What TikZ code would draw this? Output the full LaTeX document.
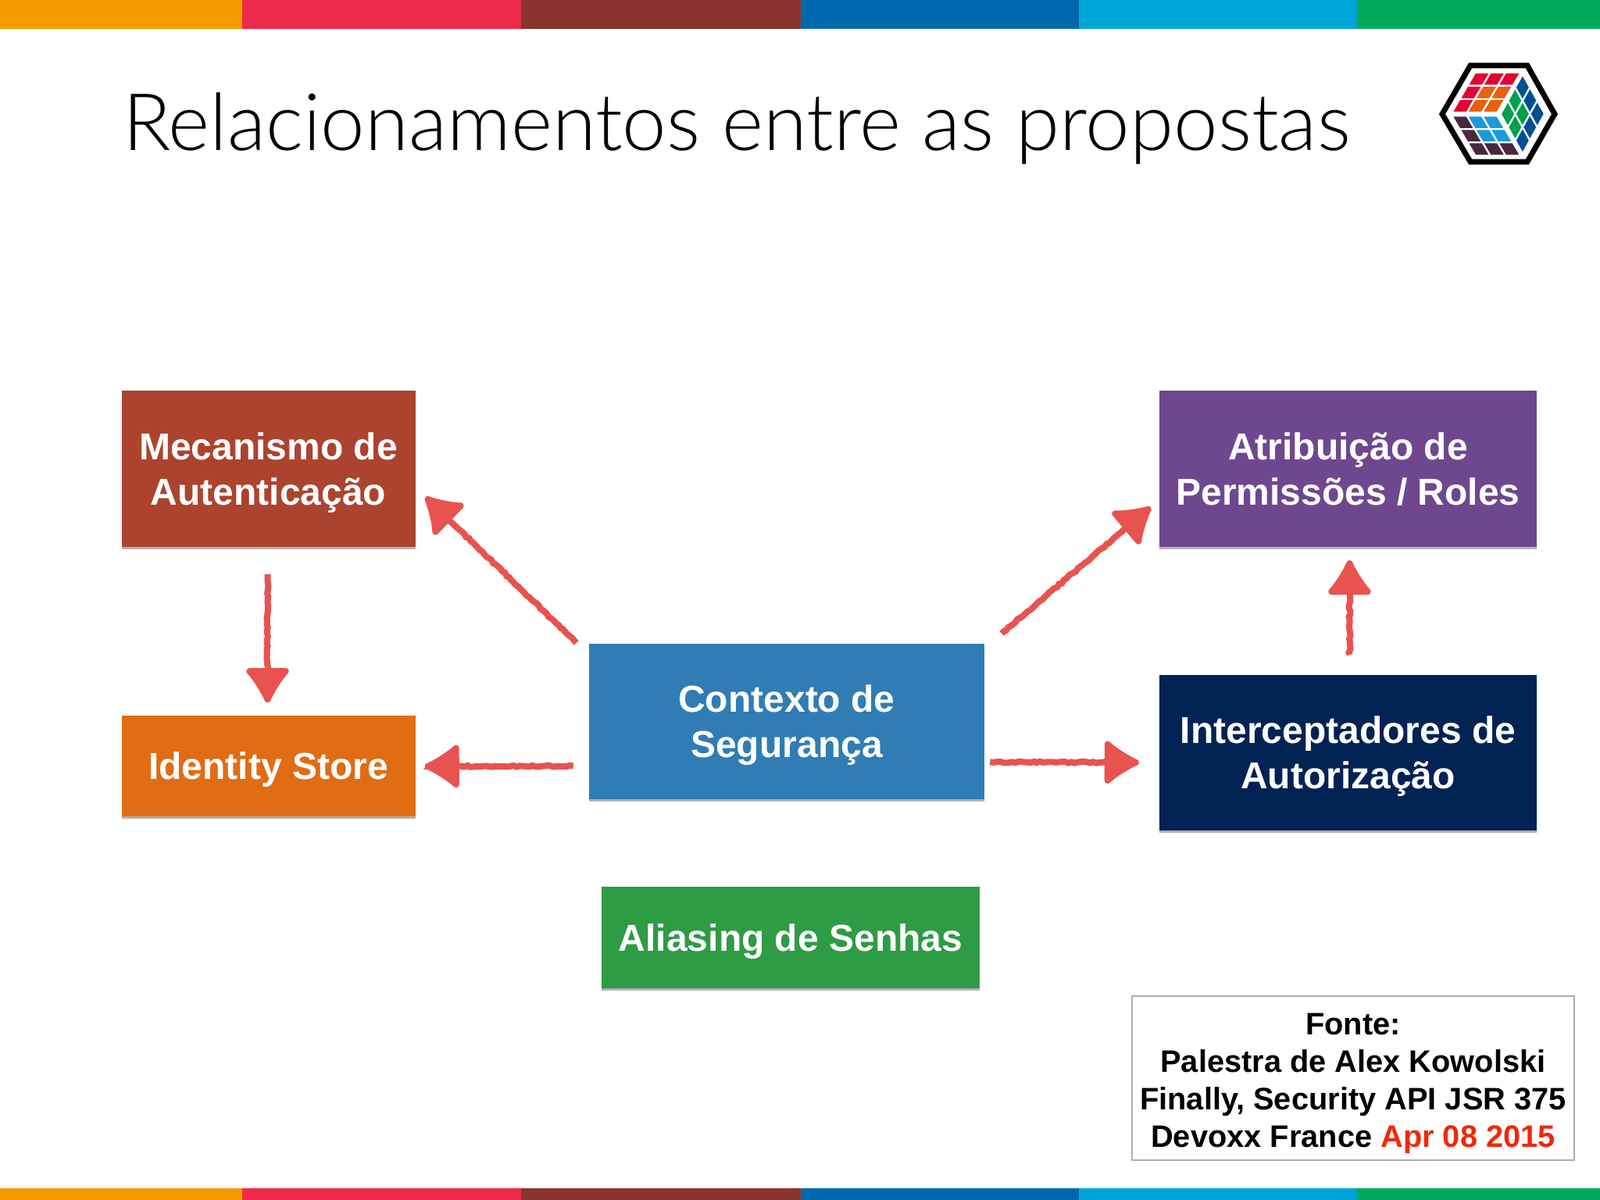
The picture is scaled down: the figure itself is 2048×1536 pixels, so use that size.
\documentclass[tikz,border=0pt]{standalone}
\usepackage{fontspec}
\usepackage{xcolor}
\usepackage{tikz}
\usetikzlibrary{arrows.meta,positioning,shadows,decorations.pathmorphing}
\setmainfont{Liberation Sans}
\newfontfamily\titlefont{Lato Light}
\newcommand{\toprule}{\rule{0pt}{44pt}}
\newcommand{\botrule}{\rule[-10pt]{0pt}{10pt}}
\definecolor{barorange}{RGB}{247,154,0}
\definecolor{barred}{RGB}{238,42,74}
\definecolor{barmaroon}{RGB}{138,51,47}
\definecolor{barblue}{RGB}{0,105,174}
\definecolor{barcyan}{RGB}{0,165,216}
\definecolor{bargreen}{RGB}{0,168,90}
\definecolor{mecred}{RGB}{172,67,46}
\definecolor{idsorange}{RGB}{224,108,20}
\definecolor{ctxblue}{RGB}{47,125,180}
\definecolor{aliasgreen}{RGB}{46,155,69}
\definecolor{atrpurple}{RGB}{111,71,143}
\definecolor{intnavy}{RGB}{1,35,83}
\definecolor{arrowred}{RGB}{232,83,79}
\definecolor{logored}{RGB}{227,0,52}
\definecolor{logoorange}{RGB}{232,96,12}
\definecolor{logoblue}{RGB}{0,80,145}
\definecolor{logogreen}{RGB}{0,160,75}
\definecolor{logocyan}{RGB}{25,155,220}
\definecolor{logodark}{RGB}{72,40,60}
\definecolor{sourcered}{RGB}{240,40,10}

\begin{document}
\begin{tikzpicture}[x=1pt,y=-1pt,>=Latex,
  boxlabel/.style={font=\fontsize{48}{58}\selectfont\bfseries,text=white,align=center,inner sep=0pt,
    drop shadow={shadow xshift=0pt,shadow yshift=-3pt,opacity=0.3,fill=black}},
  sketchline/.style={draw=arrowred,line width=8pt,
    arrows={-Latex[length=50pt,width=66pt,round]},
    decorate,decoration={random steps,segment length=4pt,amplitude=1pt,post length=12pt}},
  logocell/.style={draw=white,line width=2.2pt}]
\useasboundingbox (0,0) rectangle (2048,1536);
\fill[white] (0,0) rectangle (2048,1536);
% colour bars
\foreach \xa/\xb/\barcol in {0/310/barorange,310/667/barred,667/1025/barmaroon,1025/1381/barblue,1381/1737/barcyan,1737/2048/bargreen}{
  \fill[\barcol] (\xa,0) rectangle (\xb,37);
  \fill[\barcol] (\xa,1521) rectangle (\xb,1536);
}
\node[anchor=base west,inner sep=0pt,font=\titlefont\fontsize{101.5}{120}\selectfont] (title) at (157,193) {Relacionamentos entre as propostas};
% logo
\draw[line width=7pt,miter limit=4] (1882,84) -- (1955,84) -- (1990,146) -- (1955,207) -- (1882,207) -- (1846,146) -- cycle;
\begin{scope}[shift={(1888.3,92.7)},x={(19.4pt,0pt)},y={(-10pt,-17.1pt)}]
\foreach \i/\j/\cellcol in {0/0/logored,1/0/logored,2/0/logored,0/1/logored,1/1/logoorange,2/1/logoorange,0/2/logored,1/2/logoorange,2/2/logoorange}
  \filldraw[logocell,fill=\cellcol] (\i,\j) -- ++(1,0) -- ++(0,1) -- ++(-1,0) -- cycle;
\end{scope}
\begin{scope}[shift={(1920.7,146)},x={(9.4pt,17pt)},y={(9.4pt,-16.9pt)}]
\foreach \i/\j/\cellcol in {0/0/logogreen,1/0/logogreen,2/0/logoblue,0/1/logogreen,1/1/logogreen,2/1/logoblue,0/2/logoblue,1/2/logoblue,2/2/logoblue}
  \filldraw[logocell,fill=\cellcol] (\i,\j) -- ++(1,0) -- ++(0,1) -- ++(-1,0) -- cycle;
\end{scope}
\begin{scope}[shift={(1858.3,148.3)},x={(19.4pt,0pt)},y={(10pt,-17pt)}]
\foreach \i/\j/\cellcol in {0/0/logodark,1/0/logocyan,2/0/logocyan,0/1/logodark,1/1/logocyan,2/1/logocyan,0/2/logodark,1/2/logodark,2/2/logodark}
  \filldraw[logocell,fill=\cellcol] (\i,\j) -- ++(1,0) -- ++(0,1) -- ++(-1,0) -- cycle;
\end{scope}
% boxes
\node[boxlabel,fill=mecred,minimum width=376pt,minimum height=200pt] (mec) at (343.5,600) {\toprule Mecanismo de\\Autenticação\botrule};
\node[boxlabel,fill=idsorange,minimum width=376pt,minimum height=129pt,below=216pt of mec] (ids) {\toprule Identity Store\botrule};
\node[boxlabel,fill=ctxblue,minimum width=506pt,minimum height=199pt] (ctx) at (1007,923.5) {\toprule Contexto de\\Segurança\botrule};
\node[boxlabel,fill=aliasgreen,minimum width=484pt,minimum height=130pt,below=112pt of ctx,xshift=5pt] (alias) {\toprule Aliasing de Senhas\botrule};
\node[boxlabel,fill=atrpurple,minimum width=483pt,minimum height=200pt] (atr) at (1725.5,600) {\toprule Atribuição de\\Permissões / Roles\botrule};
\node[boxlabel,fill=intnavy,minimum width=483pt,minimum height=199pt,below=164pt of atr] (int) {\toprule Interceptadores de\\Autorização\botrule};
\node[draw=black!32,line width=2pt,fill=white,minimum width=566pt,minimum height=210pt,inner sep=0pt,align=center,
  font=\fontsize{39.8}{48}\selectfont\bfseries] (fonte) at (1732,1380) {\rule{0pt}{42pt}Fonte:\\Palestra de Alex Kowolski\\Finally, Security API JSR 375\\Devoxx France \textcolor{sourcered}{Apr 08 2015}};
% arrows
\draw[sketchline] ([shift={(-16,-1)}]ctx.north west) -- ([shift={(13,-64)}]mec.south east);
\draw[sketchline] ([shift={(-1,35)}]mec.south) -- ([shift={(-1,-17)}]ids.north);
\draw[sketchline] ([shift={(-20,57)}]ctx.west) -- ([shift={(12,0)}]ids.east);
\draw[sketchline] ([shift={(7,52)}]ctx.east) -- ([shift={(-26,12)}]int.west);
\draw[sketchline] ([shift={(22,-13)}]ctx.north east) -- ([shift={(-11,-51)}]atr.south west);
\draw[sketchline] ([shift={(2,-26)}]int.north) -- ([shift={(2,17)}]atr.south);
\end{tikzpicture}
\end{document}
